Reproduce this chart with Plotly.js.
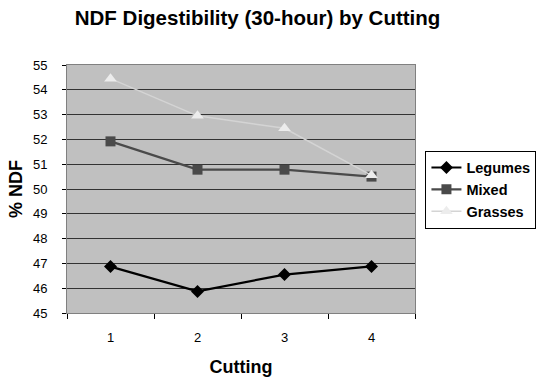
<!DOCTYPE html>
<html><head><meta charset="utf-8">
<script src="https://cdn.plot.ly/plotly-3.0.1.min.js"></script>
<style>body{margin:0;background:#fff}#c{width:548px;height:384px}</style>
</head><body><div id="c"></div>
<script>
const cuttings = ["1","2","3","4"];
const legumes = [46.87, 45.87, 46.55, 46.88];
const mixed = [51.92, 50.78, 50.78, 50.5];
const grasses = [54.45, 52.95, 52.45, 50.55];
const yTicks = [45,46,47,48,49,50,51,52,53,54,55];

const F = "Liberation Sans, Arial, sans-serif";
const traces = [
  {x: cuttings, y: legumes, name: "Legumes", mode: "lines+markers",
   line: {color: "#000000", width: 2.2}, marker: {symbol: "diamond", size: 10, color: "#000000"}},
  {x: cuttings, y: mixed, name: "Mixed", mode: "lines+markers",
   line: {color: "#4a4a4a", width: 2.2}, marker: {symbol: "square", size: 10, color: "#4a4a4a"}},
  {x: cuttings, y: grasses, name: "Grasses", mode: "lines+markers",
   line: {color: "#d4d4d4", width: 1.5}, marker: {symbol: "triangle-up", size: 11, color: "#ececec"}}
];
const layout = {
  width: 548, height: 384,
  margin: {l: 67, r: 127, t: 65, b: 71},
  paper_bgcolor: "#ffffff", plot_bgcolor: "#c0c0c0",
  font: {family: F, color: "#000"},
  title: {text: "<b>NDF Digestibility (30-hour) by Cutting</b>", font: {size: 20.5, family: F},
          x: 0.47, xanchor: "center", y: 0.953, yanchor: "middle"},
  showlegend: true,
  legend: {x: 1.03, xanchor: "left", y: 0.655, yanchor: "top", bordercolor: "#000", borderwidth: 1,
           bgcolor: "#fff", font: {size: 14.5, family: F, weight: "bold"}, tracegroupgap: 2},
  xaxis: {type: "category", range: [-0.5, 3.5], tickson: "boundaries", ticks: "outside", ticklen: 5,
          automargin: false,
          tickcolor: "#000", showgrid: false, showline: true, linecolor: "#808080", linewidth: 1, mirror: true,
          tickfont: {size: 13, family: F}, ticklabelstandoff: 12,
          title: {text: "<b>Cutting</b>", font: {size: 18, family: F}, standoff: 16}},
  yaxis: {range: [45, 55], tickvals: yTicks, ticktext: yTicks.map(String), ticks: "outside", ticklen: 4,
          automargin: false,
          tickcolor: "#000", showgrid: true, gridcolor: "#333333", gridwidth: 1,
          showline: true, linecolor: "#808080", linewidth: 1, mirror: true, zeroline: false,
          tickfont: {size: 13, family: F}, ticklabelstandoff: 12,
          title: {text: "<b>% NDF</b>", font: {size: 18, family: F}, standoff: 5}}
};
Plotly.newPlot("c", traces, layout, {staticPlot: true});
</script></body></html>
